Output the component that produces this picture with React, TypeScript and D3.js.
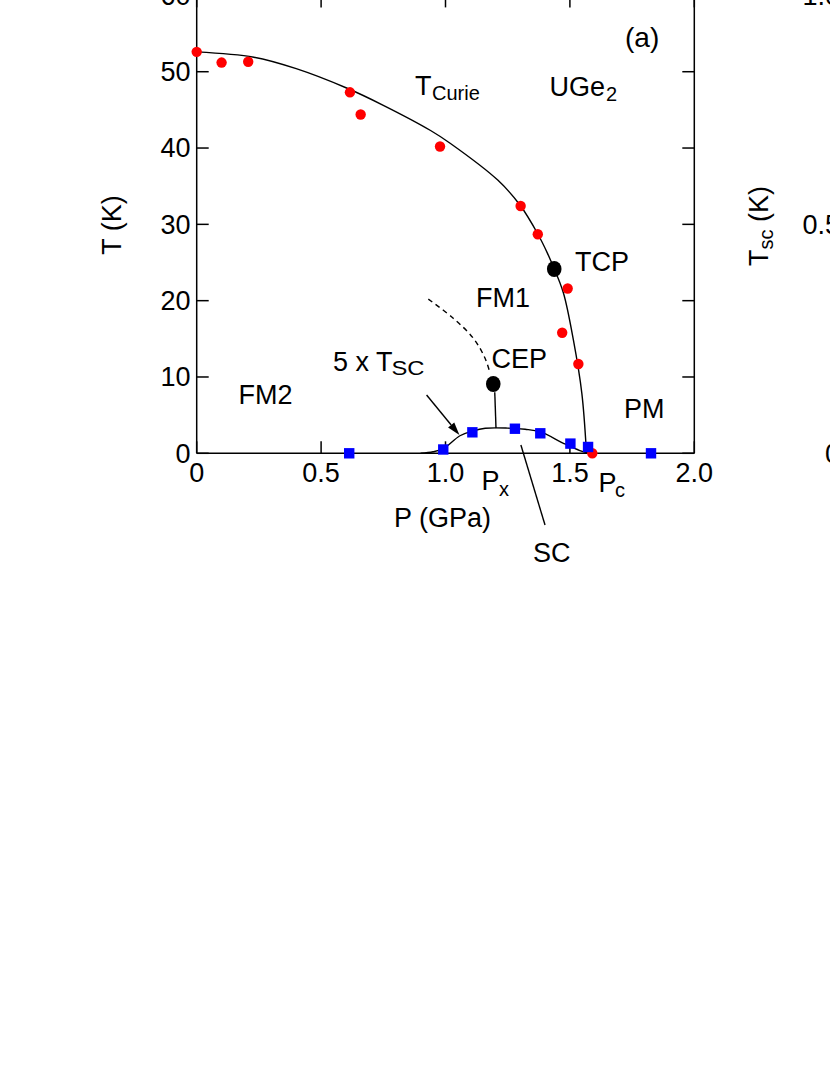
import React from 'react';
import * as d3 from 'd3';

// ---- axes ----
const xTicks = [0, 0.5, 1.0, 1.5, 2.0];
const xTickLabels = ['0', '0.5', '1.0', '1.5', '2.0'];
const yTicks = [0, 10, 20, 30, 40, 50, 60];
const yTickLabels = ['0', '10', '20', '30', '40', '50', '60'];
const tscTicks = [0, 0.5, 1.0];
const tscTickLabels = ['0', '0.5', '1.0'];

// ---- T_Curie data (red circles) ----
const curieP = [0, 0.10, 0.207, 0.616, 0.659, 0.978, 1.302, 1.371, 1.491, 1.469, 1.534, 1.590];
const curieT = [52.6, 51.2, 51.3, 47.3, 44.4, 40.2, 32.4, 28.7, 21.6, 15.8, 11.7, 0];

// ---- 5 x Tsc data (blue squares) ----
const scP = [0.613, 0.991, 1.108, 1.279, 1.381, 1.502, 1.573, 1.826];
const scT5 = [0, 0.5, 2.75, 3.22, 2.62, 1.27, 0.83, 0];

// ---- special points ----
const tcpP = 1.437, tcpT = 24.15;
const cepP = 1.192, cepT = 9.08;

// ---- guide lines ----
const line2ndP = [0, 0.23, 0.40, 0.60, 0.75, 0.94, 1.02, 1.21, 1.30, 1.37, 1.41, 1.437];
const line2ndT = [52.6, 51.9, 50.4, 47.9, 45.6, 42.3, 40.6, 35.8, 32.5, 28.8, 26.2, 24.15];
const line1stP = [1.437, 1.474, 1.514, 1.548, 1.566];
const line1stT = [24.15, 21.0, 14.85, 7.86, 0.4];
const domeP = [0.90, 0.95, 0.991, 1.058, 1.108, 1.16, 1.25, 1.32, 1.38, 1.474, 1.54, 1.575];
const domeT = [0, 0.2, 0.6, 2.3, 2.9, 3.28, 3.3, 3.15, 2.83, 1.31, 0.35, 0];
const dashP = [0.931, 1.031, 1.112, 1.159, 1.179];
const dashT = [20.2, 17.7, 15.07, 12.45, 10.5];
const cepLineP = [1.198, 1.203];
const cepLineT = [8.0, 3.3];
const arrowP = [0.924, 1.056];
const arrowT = [7.64, 2.4];
const scPointerP = [1.303, 1.40];
const scPointerT = [1.08, -9.4];

const FONT = '"Liberation Sans", Arial, Helvetica, sans-serif';

export default function App() {
  const x = d3.scaleLinear().domain([0, 2]).range([196.7, 694.3]);
  const y = d3.scaleLinear().domain([0, 60]).range([453.3, -4.6]);
  const ytsc = d3.scaleLinear().domain([0, 1]).range([453.3, -4.6]);

  const mk = (ps: number[], ts: number[]) => ps.map((p, i) => [p, ts[i]] as [number, number]);
  const lineCR = d3.line<[number, number]>().x(d => x(d[0])).y(d => y(d[1])).curve(d3.curveCatmullRom.alpha(0.5));
  const lineLin = d3.line<[number, number]>().x(d => x(d[0])).y(d => y(d[1]));

  const [x0, x1] = x.range();
  const [yb, yt] = y.range();
  const tickLen = 12;

  // arrow geometry
  const ax0 = x(arrowP[0]), ay0 = y(arrowT[0]), ax1 = x(arrowP[1]), ay1 = y(arrowT[1]);
  const ang = Math.atan2(ay1 - ay0, ax1 - ax0);
  const hl = 13, hw = 4;
  const bx = ax1 - hl * Math.cos(ang), by = ay1 - hl * Math.sin(ang);
  const head = `M${ax1},${ay1} L${bx + hw * Math.sin(ang)},${by - hw * Math.cos(ang)} L${bx - hw * Math.sin(ang)},${by + hw * Math.cos(ang)} Z`;

  const fs = 27;
  const sub = 20;

  return (
    <svg width={830} height={1075} style={{ position: 'absolute', left: 0, top: 0, background: '#fff' }} fontFamily={FONT}>
      <rect x={0} y={0} width={830} height={1075} fill="#fff" />
      {/* frame */}
      <g stroke="#000" strokeWidth={1.5} fill="none">
        <line x1={x0} y1={yt} x2={x0} y2={yb} />
        <line x1={x1} y1={yt} x2={x1} y2={yb} />
        <line x1={x0} y1={yb} x2={x1} y2={yb} />
        <line x1={x0} y1={yt} x2={x1} y2={yt} />
        {yTicks.map(t => (
          <g key={'yt' + t}>
            <line x1={x0} x2={x0 + tickLen} y1={y(t)} y2={y(t)} />
            <line x1={x1} x2={x1 - tickLen} y1={y(t)} y2={y(t)} />
          </g>
        ))}
        {xTicks.map(t => (
          <g key={'xt' + t}>
            <line x1={x(t)} x2={x(t)} y1={yb} y2={yb - tickLen} />
            <line x1={x(t)} x2={x(t)} y1={yt} y2={yt + tickLen} />
          </g>
        ))}
      </g>
      {/* tick labels */}
      <g fontSize={fs} fill="#000">
        {yTicks.map((t, i) => (
          <text key={'yl' + t} x={190.5} y={y(t) + 9.3} textAnchor="end">{yTickLabels[i]}</text>
        ))}
        {xTicks.map((t, i) => (
          <text key={'xl' + t} x={x(t)} y={481.5} textAnchor="middle">{xTickLabels[i]}</text>
        ))}
        {tscTicks.map((t, i) => (
          <text key={'tl' + t} x={840} y={ytsc(t) + 9.3} textAnchor="end">{tscTickLabels[i]}</text>
        ))}
      </g>
      {/* axis titles */}
      <g fontSize={fs} fill="#000">
        <text transform="translate(121,225) rotate(-90)" textAnchor="middle">T (K)</text>
        <text transform="translate(768.3,266) rotate(-90)">
          T<tspan fontSize={sub} dy={5}>sc</tspan><tspan dy={-5}> (K)</tspan>
        </text>
        <text x={394} y={526.7}>P (GPa)</text>
      </g>
      {/* curves */}
      <g fill="none" stroke="#000" strokeWidth={1.4}>
        <path d={lineCR(mk(line2ndP, line2ndT)) || ''} />
        <path d={lineCR(mk(line1stP, line1stT)) || ''} />
        <path d={lineCR(mk(domeP, domeT)) || ''} />
        <path d={lineCR(mk(dashP, dashT)) || ''} strokeDasharray="5,4" />
        <path d={lineLin(mk(cepLineP, cepLineT)) || ''} />
        <path d={lineLin(mk(scPointerP, scPointerT)) || ''} />
        <line x1={ax0} y1={ay0} x2={bx} y2={by} />
      </g>
      <path d={head} fill="#000" />
      {/* red circles */}
      {curieP.map((p, i) => (
        <circle key={'c' + i} cx={x(p)} cy={y(curieT[i])} r={5.2} fill="#ff0000" />
      ))}
      {/* blue squares */}
      {scP.map((p, i) => (
        <rect key={'s' + i} x={x(p) - 5.2} y={y(scT5[i]) - 5.2} width={10.4} height={10.4} fill="#0000ff" />
      ))}
      {/* TCP & CEP */}
      <ellipse cx={x(tcpP)} cy={y(tcpT)} rx={7.3} ry={8} fill="#000" />
      <ellipse cx={x(cepP)} cy={y(cepT)} rx={7.3} ry={8} fill="#000" />
      {/* labels */}
      <g fontSize={fs} fill="#000">
        <text x={625} y={47} fontSize={28}>(a)</text>
        <text x={415} y={95}>T</text>
        <text x={432} y={100} fontSize={sub}>Curie</text>
        <text x={549.5} y={96}>UGe</text>
        <text x={606} y={101} fontSize={sub}>2</text>
        <text x={575} y={271}>TCP</text>
        <text x={476} y={306.7}>FM1</text>
        <text x={491.5} y={368.3}>CEP</text>
        <text x={624} y={418.3}>PM</text>
        <text x={238.5} y={404}>FM2</text>
        <text x={333} y={370.7}>5 x T</text>
        <text x={391.5} y={375} fontSize={sub} textLength={33} lengthAdjust="spacingAndGlyphs">SC</text>
        <text x={481.5} y={490}>P</text>
        <text x={499} y={495.5} fontSize={sub}>x</text>
        <text x={598.5} y={491.7}>P</text>
        <text x={615} y={497} fontSize={sub}>c</text>
        <text x={533} y={561.7}>SC</text>
      </g>
    </svg>
  );
}
